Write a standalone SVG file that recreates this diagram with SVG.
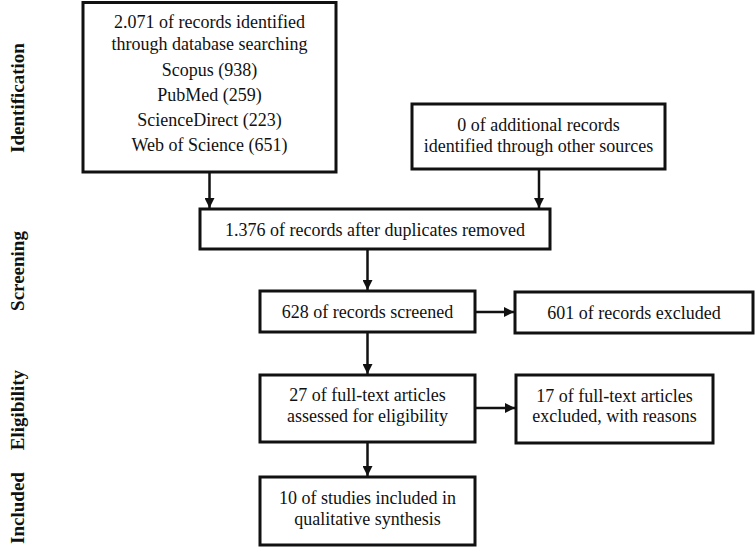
<svg xmlns="http://www.w3.org/2000/svg" width="756" height="549" viewBox="0 0 756 549">
<defs>
<style>
.box{fill:#fff;stroke:#111;stroke-width:3}
.t{font-family:"Liberation Serif","Times New Roman",serif;font-size:18px;fill:#111;text-anchor:middle}
.lab{font-family:"Liberation Serif","Times New Roman",serif;font-size:19px;font-weight:bold;fill:#111;text-anchor:middle}
.c{stroke:#111;stroke-width:2.5;fill:none;marker-end:url(#ah)}
</style>
<marker id="ah" viewBox="0 0 10 10" refX="10" refY="5" markerWidth="4" markerHeight="4" orient="auto" markerUnits="strokeWidth">
<path d="M0,0 L10,5 L0,10 z" fill="#111"/>
</marker>
</defs>
<rect width="756" height="549" fill="#fff"/>
<g id="labels">
<text class="lab" transform="translate(23.5,98) rotate(-90)">Identification</text>
<text class="lab" transform="translate(23.5,271) rotate(-90)">Screening</text>
<text class="lab" transform="translate(23.5,410) rotate(-90)">Eligibility</text>
<text class="lab" transform="translate(23.5,508) rotate(-90)">Included</text>
</g>
<g id="connectors">
<path class="c" d="M209.5,172 V208"/>
<path class="c" d="M539,169 V208"/>
<path class="c" d="M367.5,249 V290"/>
<path class="c" d="M475,312 H514"/>
<path class="c" d="M367.5,332 V374"/>
<path class="c" d="M475,408 H515"/>
<path class="c" d="M367.5,442 V476"/>
</g>
<g id="n1">
<rect class="box" x="83" y="2.5" width="253" height="169.5"/>
<text class="t" x="209.5" y="28">2.071 of records identified</text>
<text class="t" x="209.5" y="50">through database searching</text>
<text class="t" x="209.5" y="76">Scopus (938)</text>
<text class="t" x="209.5" y="101">PubMed (259)</text>
<text class="t" x="209.5" y="126">ScienceDirect (223)</text>
<text class="t" x="209.5" y="151">Web of Science (651)</text>
</g>
<g id="n2">
<rect class="box" x="412" y="104" width="253" height="65"/>
<text class="t" x="538.5" y="131">0 of additional records</text>
<text class="t" x="538.5" y="152">identified through other sources</text>
</g>
<g id="n3">
<rect class="box" x="200" y="209" width="350" height="40"/>
<text class="t" x="375" y="236">1.376 of records after duplicates removed</text>
</g>
<g id="n4">
<rect class="box" x="260" y="291" width="215" height="41"/>
<text class="t" x="367.5" y="318">628 of records screened</text>
</g>
<g id="n5">
<rect class="box" x="515" y="292" width="238" height="41"/>
<text class="t" x="634" y="319">601 of records excluded</text>
</g>
<g id="n6">
<rect class="box" x="260" y="375" width="215" height="67"/>
<text class="t" x="367.5" y="401">27 of full-text articles</text>
<text class="t" x="367.5" y="422">assessed for eligibility</text>
</g>
<g id="n7">
<rect class="box" x="516" y="375" width="197" height="68"/>
<text class="t" x="614.5" y="402">17 of full-text articles</text>
<text class="t" x="614.5" y="422">excluded, with reasons</text>
</g>
<g id="n8">
<rect class="box" x="260" y="477" width="215" height="68"/>
<text class="t" x="367.5" y="504">10 of studies included in</text>
<text class="t" x="367.5" y="525">qualitative synthesis</text>
</g>
</svg>
